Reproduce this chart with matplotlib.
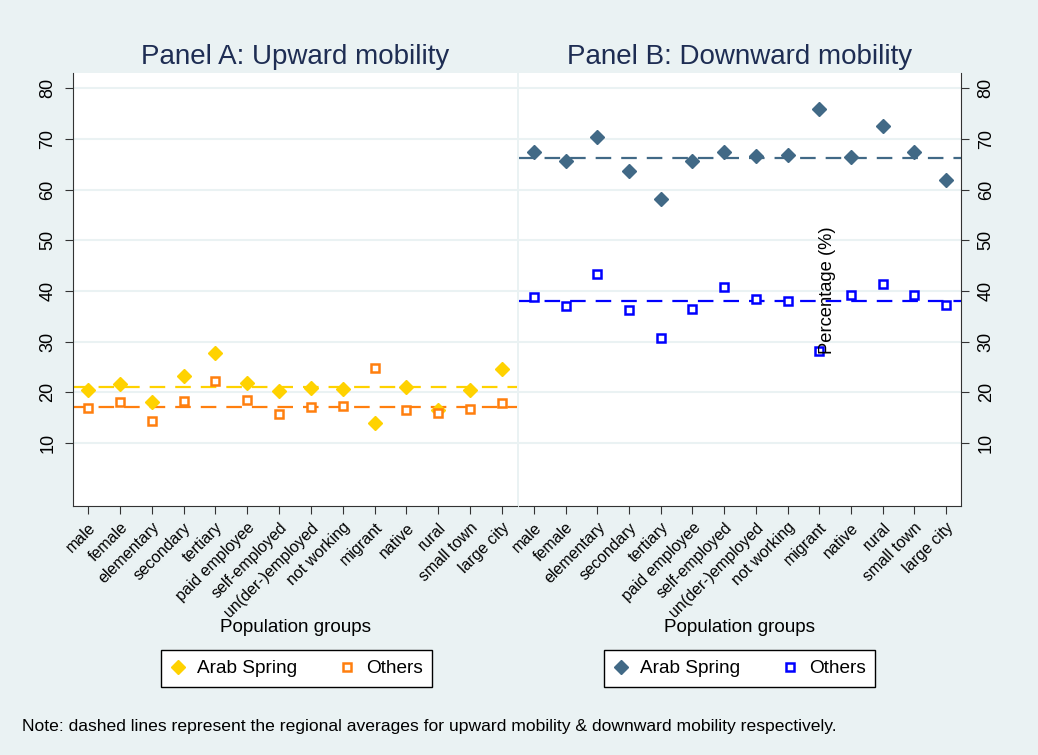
import matplotlib.pyplot as plt
import numpy as np

plt.rcParams['font.family'] = ['Liberation Sans', 'DejaVu Sans']

groups = ['male', 'female', 'elementary', 'secondary', 'tertiary', 'paid employee',
          'self-employed', 'un(der-)employed', 'not working', 'migrant', 'native',
          'rural', 'small town', 'large city']

# Panel A: upward mobility (%)
up_arab = [20.4, 21.7, 18.1, 23.3, 27.8, 21.8, 20.3, 20.9, 20.7, 13.9, 21.1, 16.5, 20.4, 24.7]
up_others = [16.9, 18.1, 14.3, 18.3, 22.3, 18.5, 15.8, 17.2, 17.4, 24.8, 16.5, 15.9, 16.8, 18.0]
up_avg_arab = 21.0
up_avg_others = 17.1

# Panel B: downward mobility (%)
down_arab = [67.5, 65.7, 70.3, 63.6, 58.2, 65.6, 67.5, 66.7, 66.8, 75.9, 66.4, 72.5, 67.4, 61.9]
down_others = [38.9, 37.0, 43.4, 36.3, 30.8, 36.5, 40.7, 38.4, 38.1, 28.2, 39.3, 41.4, 39.3, 37.2]
down_avg_arab = 66.2
down_avg_others = 38.1

yticks = [10, 20, 30, 40, 50, 60, 70, 80]

BG = '#eaf2f3'
TITLE_C = '#1e2d53'
W, H = 1038, 755

fig = plt.figure(figsize=(W / 100, H / 100), dpi=100, facecolor=BG)

ax1 = fig.add_axes([73 / W, 1 - 506 / H, 444 / W, 433 / H])
ax2 = fig.add_axes([519 / W, 1 - 506 / H, 442 / W, 433 / H])

x = np.arange(len(groups))

panels = [
    (ax1, up_arab, up_others, up_avg_arab, up_avg_others, '#ffd200', '#ff7f0e',
     'Panel A: Upward mobility', 'left', 161),
    (ax2, down_arab, down_others, down_avg_arab, down_avg_others, '#416986', '#0000ff',
     'Panel B: Downward mobility', 'right', 604),
]

for ax, arab, others, avg_a, avg_o, c_a, c_o, title, side, leg_x in panels:
    ax.set_facecolor('white')
    ax.axhline(avg_a, color=c_a, lw=1.6, dashes=(7, 4.5), zorder=2)
    ax.axhline(avg_o, color=c_o, lw=1.6, dashes=(7, 4.5), zorder=2)
    ax.plot(x, arab, 'D', ms=7, color=c_a, mec=c_a, ls='none', label='Arab Spring', zorder=3)
    ax.plot(x, others, 's', ms=6, mfc='white', mec=c_o, mew=1.8, ls='none',
            label='Others', zorder=4)
    ax.set_xlim(-0.47, 13.47)
    ax.set_ylim(-2.4, 83)
    ax.set_yticks(yticks)
    ax.grid(axis='y', color=BG, lw=1.5, zorder=0)
    ax.set_axisbelow(True)
    ax.set_xticks(x)
    ax.set_xticklabels(groups, rotation=45, ha='right', rotation_mode='anchor', fontsize=11.5)
    ax.tick_params(axis='x', length=6, color='#333333', pad=4)
    for sp in ['top', 'left', 'right']:
        ax.spines[sp].set_visible(False)
    ax.spines['bottom'].set_color('#333333')
    ax.spines[side].set_visible(True)
    ax.spines[side].set_color('#333333')
    if side == 'left':
        ax.yaxis.tick_left()
    else:
        ax.yaxis.tick_right()
    ax.tick_params(axis='y', length=6, color='#333333', labelsize=13, pad=6)
    for lab in ax.get_yticklabels():
        lab.set_rotation(90)
        lab.set_va('center')

    xc = (ax.get_position().x0 + ax.get_position().x1) / 2
    fig.text(xc, 1 - 57 / H, title, ha='center', va='center', fontsize=20, color=TITLE_C)
    fig.text(xc, 1 - 628 / H, 'Population groups', ha='center', va='center', fontsize=13.6)

    leg = ax.legend(loc='center', ncol=2, mode='expand',
                    bbox_to_anchor=(leg_x / W, 1 - 687 / H, 271 / W, 37 / H),
                    bbox_transform=fig.transFigure, borderaxespad=0, fancybox=False,
                    edgecolor='black', framealpha=1, fontsize=13.7, handletextpad=0.6,
                    handlelength=0.8, borderpad=0.5)
    leg.get_frame().set_linewidth(1.0)

# the y title sits inside panel B, as in the source graph
fig.text(828 / W, 1 - 290 / H, 'Percentage (%)', rotation=90, ha='center', va='center',
         fontsize=13.2)

fig.text(22 / W, 1 - 726 / H,
         'Note: dashed lines represent the regional averages for upward mobility & '
         'downward mobility respectively.', ha='left', va='center', fontsize=12.6)

fig.savefig('out.png', dpi=100, facecolor=BG)
